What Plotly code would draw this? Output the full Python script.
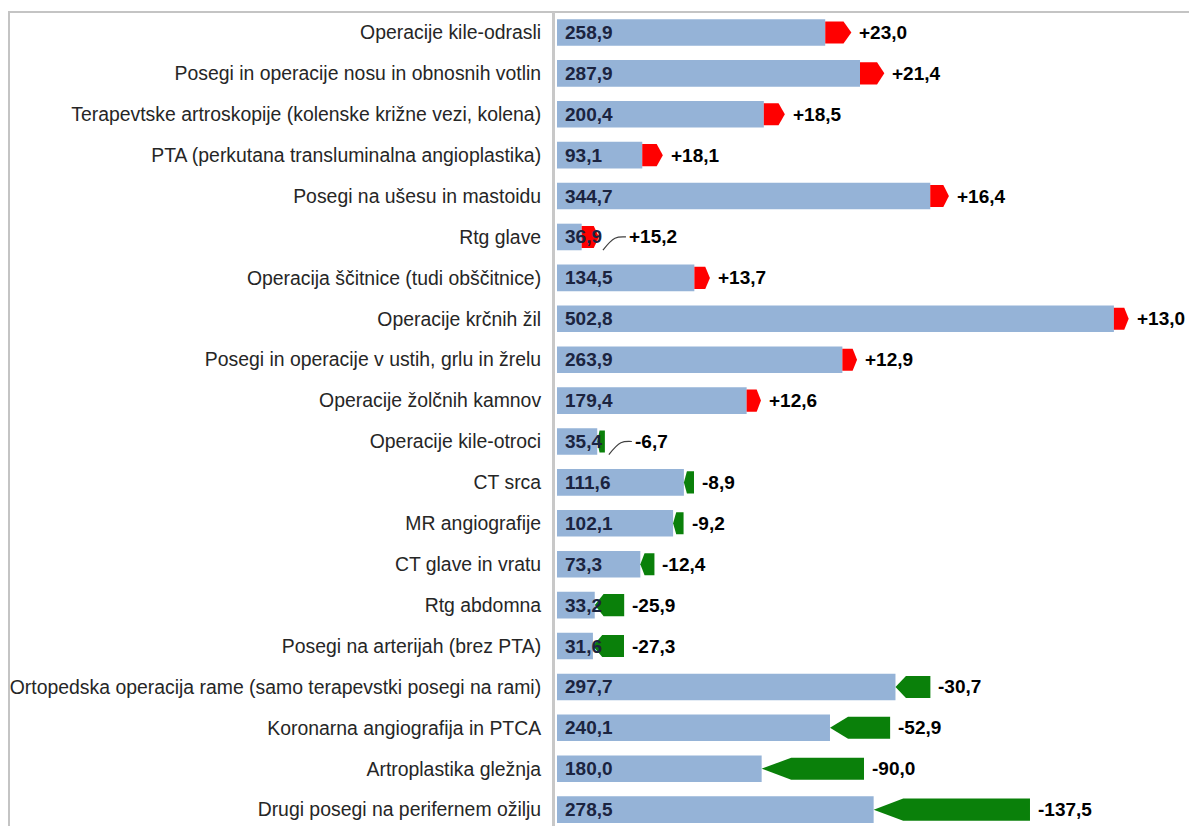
import plotly.graph_objects as go

categories = [
    "Operacije kile-odrasli",
    "Posegi in operacije nosu in obnosnih votlin",
    "Terapevtske artroskopije (kolenske križne vezi, kolena)",
    "PTA (perkutana transluminalna angioplastika)",
    "Posegi na ušesu in mastoidu",
    "Rtg glave",
    "Operacija ščitnice (tudi obščitnice)",
    "Operacije krčnih žil",
    "Posegi in operacije v ustih, grlu in žrelu",
    "Operacije žolčnih kamnov",
    "Operacije kile-otroci",
    "CT srca",
    "MR angiografije",
    "CT glave in vratu",
    "Rtg abdomna",
    "Posegi na arterijah (brez PTA)",
    "Ortopedska operacija rame (samo terapevstki posegi na rami)",
    "Koronarna angiografija in PTCA",
    "Artroplastika gležnja",
    "Drugi posegi na perifernem ožilju",
]
values = [258.9, 287.9, 200.4, 93.1, 344.7, 36.9, 134.5, 502.8, 263.9, 179.4,
          35.4, 111.6, 102.1, 73.3, 33.2, 31.6, 297.7, 240.1, 180.0, 278.5]
changes = [23.0, 21.4, 18.5, 18.1, 16.4, 15.2, 13.7, 13.0, 12.9, 12.6,
           -6.7, -8.9, -9.2, -12.4, -25.9, -27.3, -30.7, -52.9, -90.0, -137.5]
leader_rows = ["Rtg glave", "Operacije kile-otroci"]

BAR = "#95B3D7"
RED = "#FF0000"
GREEN = "#0A800A"
FONT = "Liberation Sans, Arial, sans-serif"

# the page body adds an 8px offset; compensate so the figure lands on the window
OFF = 8
FIG_W, FIG_H = 1197 - OFF, 826 - OFF
PX_PER_UNIT = 1.137
L_MARGIN = 555 - OFF
T_MARGIN = 12 - OFF
PLOT_W = FIG_W - L_MARGIN
x_min = -2 / PX_PER_UNIT
x_max = x_min + PLOT_W / PX_PER_UNIT

def fmt(v, sign=False):
    s = f"{abs(v):.1f}".replace(".", ",")
    if sign:
        return ("+" if v > 0 else "-") + s
    return ("-" if v < 0 else "") + s

n = len(categories)
ys = list(range(n))
prev = [v - c for v, c in zip(values, changes)]
base = [min(v, p) for v, p in zip(values, prev)]

fig = go.Figure()
fig.add_trace(go.Bar(
    y=ys, x=base, orientation="h", marker=dict(color=BAR, line=dict(width=0)),
    width=0.65, showlegend=False, hoverinfo="skip",
))

half = 0.27
for i, (v, p, c) in enumerate(zip(values, prev, changes)):
    length = abs(v - p)
    taper = min(0.3 * length, 26)
    d = 1 if v > p else -1  # direction toward tip (current value)
    neck = v - d * taper
    xs = [p, neck, v, neck, p, p]
    yy = [i - half, i - half, i, i + half, i + half, i - half]
    fig.add_trace(go.Scatter(
        x=xs, y=yy, fill="toself", mode="lines",
        line=dict(width=0, color=RED if c > 0 else GREEN),
        fillcolor=RED if c > 0 else GREEN, showlegend=False, hoverinfo="skip",
    ))

annotations = []
for i, (cat, v, p, c) in enumerate(zip(categories, values, prev, changes)):
    annotations.append(dict(
        x=0, y=i, xref="x", yref="y", text=f"<b>{fmt(v)}</b>", showarrow=False,
        xanchor="left", xshift=6, font=dict(family=FONT, size=19, color="#1B2440"),
    ))
    right = max(v, p)
    shift = 6
    if cat in leader_rows:
        shift = 28
        x0 = right + 4 / PX_PER_UNIT
        x1 = right + 16 / PX_PER_UNIT
        x2 = right + 27 / PX_PER_UNIT
        fig.add_trace(go.Scatter(
            x=[x0, x1, x2], y=[i + 0.32, i + 0.03, i], mode="lines",
            line=dict(color="#404040", width=1.2, shape="spline"),
            showlegend=False, hoverinfo="skip",
        ))
    annotations.append(dict(
        x=right, y=i, xref="x", yref="y", text=f"<b>{fmt(c, sign=True)}</b>",
        showarrow=False, xanchor="left", xshift=shift,
        font=dict(family=FONT, size=19, color="#000000"),
    ))

fig.update_layout(
    width=FIG_W, height=FIG_H,
    margin=dict(l=L_MARGIN, r=0, t=T_MARGIN, b=0, autoexpand=False),
    paper_bgcolor="white", plot_bgcolor="white",
    font=dict(family=FONT, size=19, color="#262626"),
    bargap=0.36,
    xaxis=dict(range=[x_min, x_max], showgrid=False, zeroline=False,
               showticklabels=False, showline=False, fixedrange=True,
               automargin=False),
    yaxis=dict(range=[n - 0.6, -0.5], tickmode="array", tickvals=ys,
               ticktext=categories, showgrid=False, zeroline=False,
               showline=True, linecolor="#C8C8C8", linewidth=3,
               ticks="", ticklabelstandoff=7, automargin=False,
               tickfont=dict(family=FONT, size=19.4, color="#262626")),
    annotations=annotations,
    shapes=[dict(type="rect", xref="paper", yref="paper",
                 x0=(9 - OFF - L_MARGIN) / PLOT_W,
                 x1=(1196 - OFF - L_MARGIN) / PLOT_W,
                 y0=-0.02, y1=1.0, line=dict(color="#C4C4C4", width=2),
                 fillcolor="rgba(0,0,0,0)", layer="below")],
)

fig.write_html("out.html")
